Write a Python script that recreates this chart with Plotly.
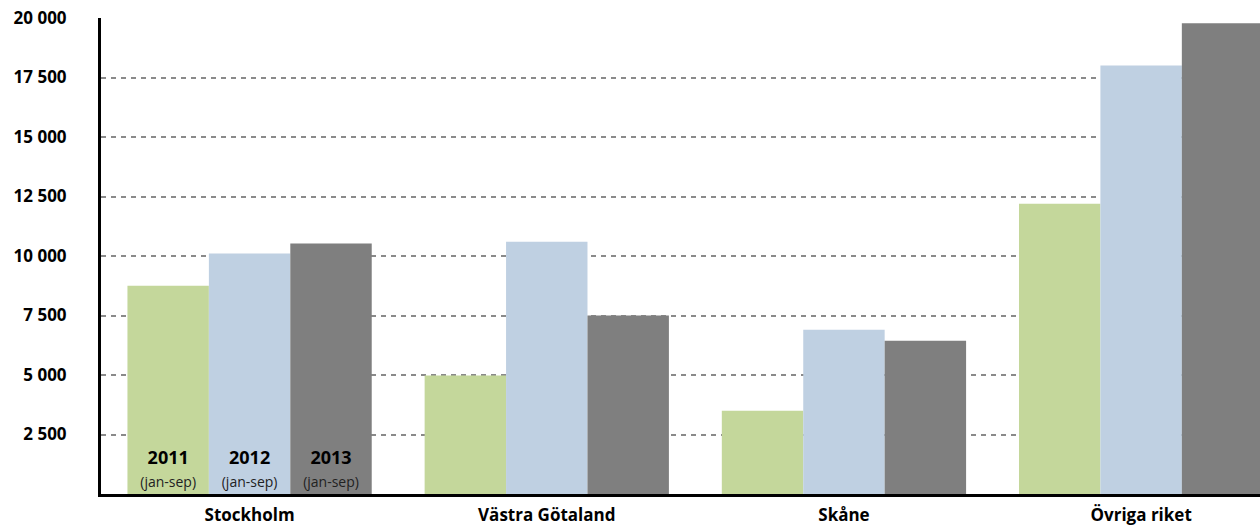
import plotly.graph_objects as go

regions = ["Stockholm", "Västra Götaland", "Skåne", "Övriga riket"]
years = ["2011", "2012", "2013"]
period = "(jan-sep)"
values_2011 = [8750, 4980, 3500, 12200]
values_2012 = [10100, 10600, 6900, 18000]
values_2013 = [10520, 7500, 6440, 19780]
colors = ["#C4D79B", "#BFD0E2", "#7F7F7F"]
tick_vals = [2500, 5000, 7500, 10000, 12500, 15000, 17500, 20000]

fig = go.Figure()
for yr, vals, col in zip(years, [values_2011, values_2012, values_2013], colors):
    labels = [f"<b>{yr}</b><br><span style='font-size:14px;color:#222'>{period}</span>"] + [""] * (len(regions) - 1)
    fig.add_trace(go.Bar(
        x=regions, y=vals, name=yr, marker=dict(color=col, line=dict(width=0)),
        text=labels, textposition="inside", insidetextanchor="start", textangle=0,
        textfont=dict(family="Open Sans", size=18, color="#000000"),
        hoverinfo="skip",
    ))

fig.update_layout(
    width=1260, height=528,
    margin=dict(l=101, r=0, t=18, b=34),
    barmode="group", bargap=0.178, bargroupgap=0,
    plot_bgcolor="white", paper_bgcolor="white",
    showlegend=False,
    separators=", ",
    font=dict(family="Open Sans", color="#000000"),
)
fig.update_xaxes(
    range=[-0.5, 3.4], showgrid=False, showline=True, linecolor="#000000", linewidth=3,
    ticks="outside", ticklen=4, tickcolor="rgba(0,0,0,0)",
    tickfont=dict(family="Open Sans", size=17, color="#000000", weight="bold"),
    zeroline=False, automargin=False,
)
fig.update_yaxes(
    range=[0, 20000], tickvals=tick_vals, tickformat=",d",
    showgrid=True, gridcolor="#8a8a8a", gridwidth=1.5, griddash="5px,5px",
    showline=True, linecolor="#000000", linewidth=3,
    ticks="outside", ticklen=28, tickcolor="rgba(0,0,0,0)",
    tickfont=dict(family="Open Sans", size=17, color="#000000", weight="bold"),
    zeroline=False, automargin=False,
)

fig.write_html(
    "out.html",
    config={"displayModeBar": False},
    post_script="document.body.style.margin='0';document.body.style.overflow='hidden';",
)
